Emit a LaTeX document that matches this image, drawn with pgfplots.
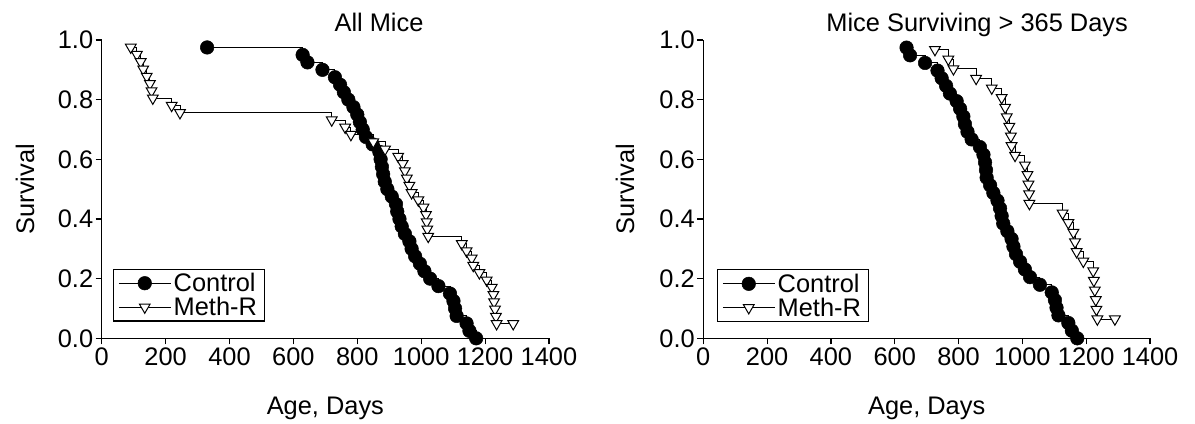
\documentclass[border=0pt]{standalone}
\usepackage{fontspec}
\setmainfont{Liberation Sans}
\usepackage{pgfplots}
\pgfplotsset{compat=1.18}
\newcommand{\ff}{\fontsize{25.5}{29}\selectfont}
\pgfplotsset{
  km/.style={
    scale only axis, height=298.3bp,
    xmin=0, xmax=1400, ymin=0, ymax=1,
    axis x line=bottom, axis y line=left,
    axis line style={-, line width=1.4bp},
    tick align=outside,
    major tick length=6bp,
    tick style={line width=1.2bp, black},
    xtick={0,200,...,1400}, ytick={0,0.2,0.4,0.6,0.8,1.0},
    /pgf/number format/assume math mode=true,
    /pgf/number format/1000 sep={},
    yticklabel style={/pgf/number format/fixed, /pgf/number format/fixed zerofill, /pgf/number format/precision=1, xshift=1bp},
    tick label style={font=\ff},
    label style={font=\ff},
    title style={font=\ff, anchor=base, yshift=3bp},
    clip=false,
    xlabel={Age, Days}, ylabel={Survival},
    xlabel style={at={(axis description cs:0.5,-0.234)}, anchor=center},
    legend cell align=left,
    legend style={draw=black, line width=1.2bp, font=\ff, anchor=south west,
      inner xsep=5bp, inner ysep=1.5bp, row sep=-1bp, nodes={inner sep=2.5bp}},
    legend image code/.code={\draw[mark repeat=2,mark phase=2] plot coordinates {(0bp,0bp) (26bp,0bp) (52bp,0bp)};},
  },
  ctl/.style={const plot, black, line width=0.9bp, mark=*, mark size=6.8bp, mark options={fill=black, draw=black, line width=0.5bp}},
  mr/.style={const plot, black, line width=0.9bp, mark=triangle*, mark size=6.2bp, mark options={rotate=180, fill=white, draw=black, line width=1bp}},
}
\begin{document}
\begin{tikzpicture}
\begin{axis}[km, width=447.3bp, at={(101.7bp,85.7bp)}, anchor=south west,
  title={All Mice}, title style={at={(0.62,1)}},
  ylabel style={at={(axis description cs:-0.1715,0.5)}, anchor=center},
  legend style={at={(0.0246,0.0557)}}]
\addplot[ctl] coordinates {(330,0.975) (629,0.95) (644,0.925) (691,0.9) (730,0.875) (746,0.85) (758,0.825) (772,0.8) (788,0.775) (800,0.75) (808,0.725) (817,0.7) (827,0.675) (848,0.65) (869,0.625) (873,0.6) (877,0.575) (881,0.55) (886,0.525) (894,0.5) (908,0.475) (921,0.45) (925,0.425) (932,0.4) (939,0.375) (949,0.35) (963,0.325) (970,0.3) (981,0.275) (996,0.25) (1010,0.225) (1028,0.2) (1054,0.175) (1090,0.15) (1101,0.125) (1106,0.1) (1111,0.075) (1142,0.05) (1151,0.025) (1172,0)};
\addlegendentry{Control}
\addplot[mr] coordinates {(91,0.9756) (110,0.9512) (122,0.9268) (130,0.9024) (141,0.878) (151,0.8537) (156,0.8293) (160,0.8049) (219,0.7805) (245,0.7561) (720,0.7317) (762,0.7073) (780,0.6829) (850,0.6585) (887,0.6341) (928,0.6098) (942,0.5854) (949,0.561) (955,0.5366) (963,0.5122) (970,0.4878) (991,0.4634) (1007,0.439) (1015,0.4146) (1017,0.3902) (1019,0.3659) (1022,0.3415) (1127,0.3171) (1142,0.2927) (1158,0.2683) (1163,0.2439) (1182,0.2195) (1205,0.1951) (1221,0.1707) (1226,0.1463) (1228,0.122) (1231,0.0976) (1234,0.0732) (1236,0.0488) (1288,0.0488)};
\addlegendentry{Meth-R}
\end{axis}
\begin{axis}[km, width=446.7bp, at={(703.3bp,85.7bp)}, anchor=south west,
  title={Mice Surviving > 365 Days}, title style={at={(0.613,1)}},
  ylabel style={at={(axis description cs:-0.175,0.5)}, anchor=center},
  legend style={at={(0.030,0.0537)}}]
\addplot[ctl] coordinates {(637,0.9744) (648,0.9487) (695,0.9231) (734,0.8974) (747,0.8718) (761,0.8462) (773,0.8205) (794,0.7949) (805,0.7692) (815,0.7436) (820,0.7179) (828,0.6923) (841,0.6667) (867,0.641) (878,0.6154) (883,0.5897) (886,0.5641) (888,0.5385) (899,0.5128) (909,0.4872) (922,0.4615) (930,0.4359) (935,0.4103) (940,0.3846) (953,0.359) (966,0.3333) (972,0.3077) (980,0.2821) (993,0.2564) (1008,0.2308) (1024,0.2051) (1055,0.1795) (1092,0.1538) (1102,0.1282) (1107,0.1026) (1113,0.0769) (1144,0.0513) (1155,0.0256) (1172,0)};
\addlegendentry{Control}
\addplot[mr] coordinates {(726,0.9677) (768,0.9355) (784,0.9032) (855,0.871) (904,0.8387) (935,0.8065) (946,0.7742) (951,0.7419) (959,0.7097) (964,0.6774) (966,0.6452) (977,0.6129) (1008,0.5806) (1016,0.5484) (1019,0.5161) (1021,0.4839) (1022,0.4516) (1126,0.4194) (1144,0.3871) (1160,0.3548) (1165,0.3226) (1170,0.2903) (1191,0.2581) (1222,0.2258) (1224,0.1935) (1227,0.1613) (1230,0.129) (1232,0.0968) (1235,0.0645) (1290,0.0645)};
\addlegendentry{Meth-R}
\end{axis}
\pgfresetboundingbox
\useasboundingbox (0bp,0bp) rectangle (1195bp,424bp);
\end{tikzpicture}
\end{document}
